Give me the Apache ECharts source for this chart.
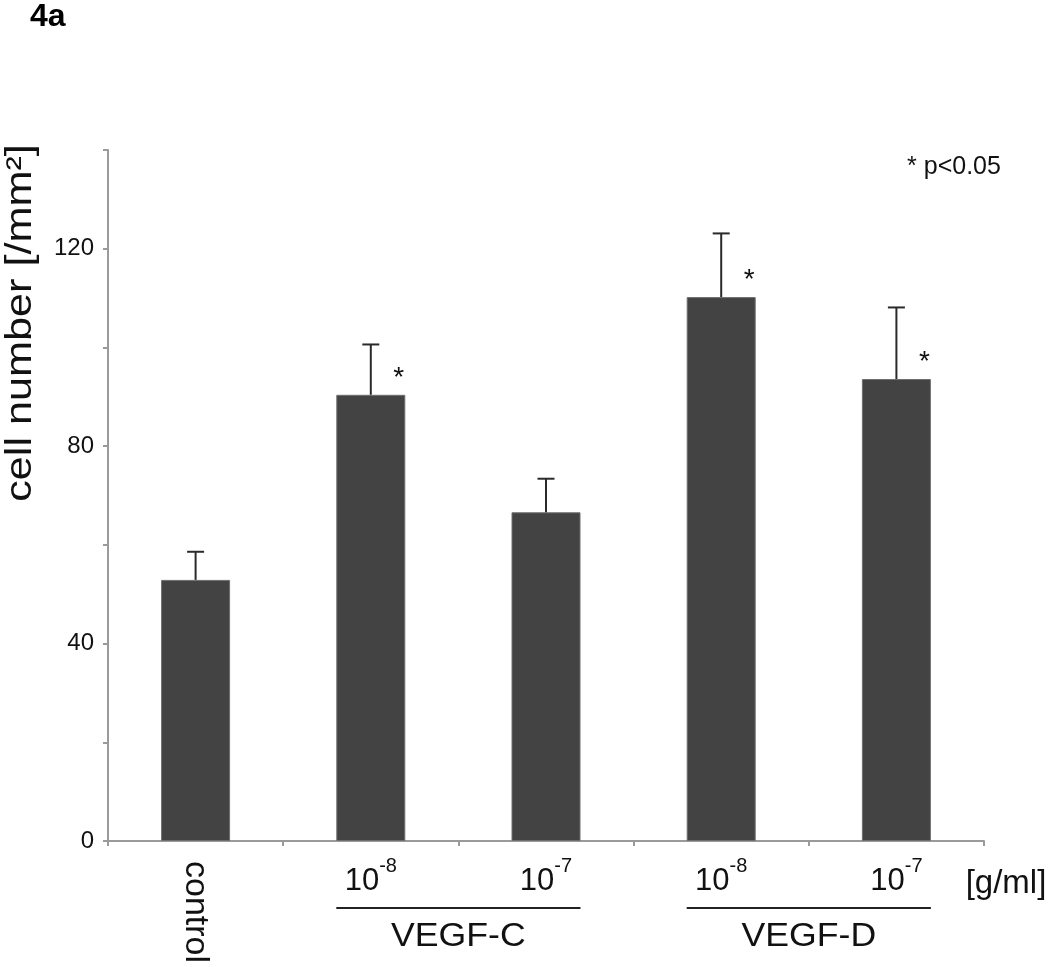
<!DOCTYPE html>
<html>
<head>
<meta charset="utf-8">
<script src="https://cdn.jsdelivr.net/npm/echarts@6/dist/echarts.min.js"></script>
<style>
html,body{margin:0;padding:0;background:#fff;}
#chart{width:1050px;height:967px;}
</style>
</head>
<body>
<div id="chart"></div>
<script>
// ---- data ----
const categories = ['control', 'VEGF-C 10^-8', 'VEGF-C 10^-7', 'VEGF-D 10^-8', 'VEGF-D 10^-7'];
const labelExponents = ['', '-8', '-7', '-8', '-7'];
const means = [52.9, 90.4, 66.6, 110.2, 93.6];
const errors = [5.7, 10.2, 6.8, 12.9, 14.5];
const significant = [false, true, false, true, true];
const groupNames = ['VEGF-C', 'VEGF-D'];
const groupFirst = [1, 3];
const groupLast = [2, 4];
const yTicks = [0, 40, 80, 120];
const unitLabel = '[g/ml]';
const yTitle = 'cell number [/mm²]';
const panelLabel = '4a';
const noteText = '* p<0.05';

const FONT = '"Liberation Sans", Arial, Helvetica, sans-serif';
const BAR_W = 69;

const chart = echarts.init(document.getElementById('chart'), null, {renderer: 'canvas'});

const option = {
  animation: false,
  backgroundColor: '#fff',
  grid: {left: 108, right: 66, top: 150, bottom: 126, containLabel: false},
  xAxis: [{
    type: 'category',
    data: categories,
    boundaryGap: true,
    axisLine: {lineStyle: {color: '#9a9a9a', width: 2}},
    axisTick: {show: true, alignWithLabel: false, length: 5, lineStyle: {color: '#9a9a9a', width: 2}},
    axisLabel: {
      margin: 15,
      interval: 0,
      formatter: function (v, i) { return labelExponents[i] ? '{n|10}{s|' + labelExponents[i] + '}' : ''; },
      rich: {
        n: {fontFamily: FONT, fontSize: 31, color: '#111', lineHeight: 50, verticalAlign: 'middle'},
        s: {fontFamily: FONT, fontSize: 20, color: '#111', verticalAlign: 'top'}
      }
    }
  }, {
    type: 'category',
    data: categories,
    position: 'bottom',
    boundaryGap: true,
    axisLine: {show: false},
    axisTick: {show: false},
    axisLabel: {
      margin: 20,
      interval: 0,
      rotate: -90,
      fontFamily: FONT, fontSize: 34, color: '#111',
      formatter: function (v, i) { return labelExponents[i] ? '' : v; }
    }
  }],
  yAxis: {
    type: 'value',
    min: 0, max: 140, interval: 20,
    splitLine: {show: false},
    axisLine: {show: true, lineStyle: {color: '#9a9a9a', width: 2}},
    axisTick: {show: true, length: 5, lineStyle: {color: '#9a9a9a', width: 2}},
    axisLabel: {
      margin: 14,
      fontFamily: FONT, fontSize: 24, color: '#111',
      formatter: function (v) { return yTicks.indexOf(v) >= 0 ? String(v) : ''; }
    }
  },
  series: [{
    type: 'bar',
    data: means,
    barWidth: BAR_W,
    itemStyle: {color: '#434343', borderColor: '#6e6e6e', borderWidth: 1},
    z: 2
  }, {
    type: 'custom',
    data: means.map(function (m, i) { return [i, m, errors[i], significant[i] ? 1 : 0]; }),
    z: 3,
    renderItem: function (params, api) {
      const base = api.coord([api.value(0), api.value(1)]);
      const top = api.coord([api.value(0), api.value(1) + api.value(2)]);
      const cap = 8.5;
      const children = [{
        type: 'line', shape: {x1: base[0], y1: base[1], x2: top[0], y2: top[1]},
        style: {stroke: '#2a2a2a', lineWidth: 2}
      }, {
        type: 'line', shape: {x1: top[0] - cap, y1: top[1], x2: top[0] + cap, y2: top[1]},
        style: {stroke: '#2a2a2a', lineWidth: 2}
      }];
      if (api.value(3)) {
        children.push({
          type: 'text',
          style: {x: base[0] + 28, y: base[1] - 17, text: '*', fontFamily: FONT, fontSize: 28,
                  fill: '#111', align: 'center', verticalAlign: 'middle'}
        });
      }
      return {type: 'group', children: children};
    }
  }]
};
chart.setOption(option);

// annotations positioned through the chart's own scales
const graphics = [];
const lineY = 908;
for (let g = 0; g < groupNames.length; g++) {
  const x1 = chart.convertToPixel({xAxisIndex: 0}, categories[groupFirst[g]]) - BAR_W / 2;
  const x2 = chart.convertToPixel({xAxisIndex: 0}, categories[groupLast[g]]) + BAR_W / 2;
  graphics.push({type: 'line', shape: {x1: x1, y1: lineY, x2: x2, y2: lineY},
                 style: {stroke: '#222', lineWidth: 2}});
  graphics.push({type: 'text', x: (x1 + x2) / 2, y: 937, scaleX: 1.08,
                 style: {text: groupNames[g], fontFamily: FONT, fontSize: 33, fill: '#111',
                         align: 'center', verticalAlign: 'middle'}});
}
graphics.push({type: 'text', x: 1006, y: 884,
               style: {text: unitLabel, fontFamily: FONT, fontSize: 33, fill: '#111', align: 'center', verticalAlign: 'middle'}});
graphics.push({type: 'text', x: 21, y: 323, rotation: Math.PI / 2, scaleX: 1.2,
               style: {text: yTitle, fontFamily: FONT, fontSize: 36, fill: '#111', align: 'center', verticalAlign: 'middle'}});
graphics.push({type: 'text', x: 30, y: 17,
               style: {text: panelLabel, fontFamily: FONT, fontSize: 32, fontWeight: 'bold', fill: '#000', align: 'left', verticalAlign: 'middle'}});
graphics.push({type: 'text', x: 954, y: 167,
               style: {text: noteText, fontFamily: FONT, fontSize: 25, fill: '#111', align: 'center', verticalAlign: 'middle'}});
chart.setOption({graphic: graphics});
</script>
</body>
</html>
